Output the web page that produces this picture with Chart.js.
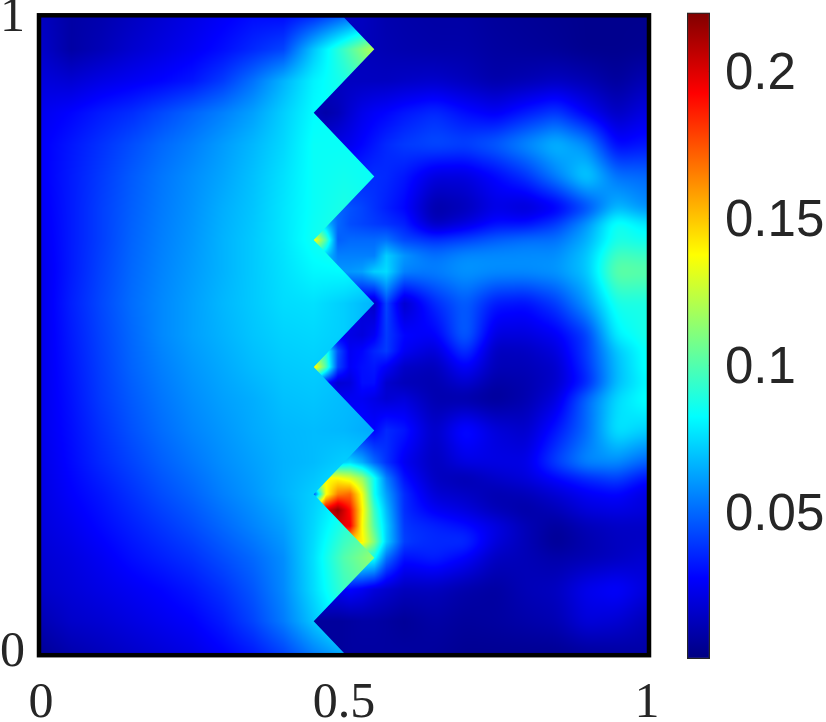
<!DOCTYPE html>
<html>
<head>
<meta charset="utf-8">
<style>
  html, body { margin: 0; background: #fff; }
  canvas { position: absolute; top: 0; }
  #field { left: 0; }
  #bar { left: 680px; }
</style>
<script src="https://cdn.jsdelivr.net/npm/chart.js@4/dist/chart.umd.min.js"></script>
</head>
<body>
<canvas id="field" width="680" height="722"></canvas>
<canvas id="bar" width="146" height="722"></canvas>
<script>
const valueUnit = 0.001;

const leftX = [0, .05, .1, .15, .2, .25, .3, .35, .4, .45, .5, .55];
const leftY = [1, .95, .9, .85, .8, .75, .7, .65, .6, .55, .5, .45, .4, .35, .3, .25, .2, .15, .1, .05, 0];
const leftValues = [
  [14, 8, 10, 14, 18, 22, 26, 30, 30, 38, 50, 60],
  [16, 8, 12, 17, 21, 25, 30, 36, 42, 70, 95, 122],
  [20, 18, 22, 25, 28, 32, 40, 52, 66, 80, 88, 100],
  [24, 28, 33, 37, 43, 49, 55, 62, 72, 82, 85, 88],
  [26, 32, 38, 44, 50, 55, 61, 67, 74, 84, 84, 84],
  [26, 33, 40, 47, 53, 58, 63, 69, 76, 84, 86, 84],
  [25, 33, 41, 48, 54, 59, 65, 70, 77, 84, 88, 86],
  [24, 33, 41, 49, 55, 60, 66, 71, 77, 85, 90, 88],
  [23, 33, 42, 50, 56, 61, 66, 71, 76, 81, 82, 80],
  [23, 34, 43, 51, 57, 62, 67, 71, 75, 76, 72, 66],
  [23, 33, 42, 50, 57, 62, 66, 70, 73, 74, 72, 66],
  [23, 32, 41, 49, 55, 60, 64, 68, 71, 72, 70, 66],
  [23, 31, 40, 47, 53, 58, 62, 65, 69, 70, 68, 66],
  [23, 30, 38, 45, 51, 56, 60, 64, 67, 68, 67, 64],
  [22, 29, 36, 42, 48, 53, 58, 62, 66, 68, 72, 72],
  [21, 27, 32, 38, 44, 49, 55, 60, 66, 72, 80, 85],
  [20, 24, 29, 34, 39, 44, 50, 56, 62, 74, 90, 100],
  [18, 21, 25, 30, 34, 38, 44, 50, 58, 76, 100, 115],
  [16, 19, 22, 25, 28, 32, 38, 46, 57, 75, 95, 105],
  [11, 16, 18, 21, 24, 27, 33, 42, 54, 70, 85, 90],
  [5, 10, 13, 16, 19, 22, 27, 33, 42, 55, 65, 70]
];

const rightX = [.45, .47, .49, .51, .53, .55, .57, .6, .65, .7, .75, .8, .85, .9, .95, 1];
const rightY = [1, .95, .9, .85, .8, .75, .7, .675, .65, .625, .6, .55, .5, .475, .45, .425, .4, .35, .3, .275, .25, .225, .2, .175, .15, .1, .05, 0];
const rightValues = [
  [15, 15, 15, 14, 14, 12, 10, 9, 8, 8, 6, 5, 4, 3, 3, 3],
  [15, 15, 15, 14, 13, 12, 11, 10, 9, 9, 7, 6, 5, 3, 3, 4],
  [14, 14, 14, 14, 14, 14, 14, 15, 16, 13, 9, 11, 14, 11, 6, 12],
  [12, 9, 12, 18, 23, 26, 28, 32, 37, 30, 25, 33, 40, 26, 14, 22],
  [20, 20, 22, 24, 28, 32, 36, 40, 44, 42, 48, 58, 68, 58, 28, 32],
  [35, 35, 35, 35, 36, 37, 36, 32, 20, 20, 28, 38, 55, 74, 52, 50],
  [55, 55, 50, 45, 42, 38, 34, 28, 8, 12, 22, 17, 24, 42, 68, 58],
  [85, 70, 50, 44, 42, 40, 38, 34, 12, 20, 30, 30, 40, 60, 88, 78],
  [140, 100, 48, 50, 50, 50, 52, 42, 38, 42, 48, 52, 52, 65, 88, 85],
  [90, 70, 55, 55, 55, 55, 72, 60, 52, 58, 58, 58, 58, 70, 98, 95],
  [65, 65, 60, 60, 62, 72, 75, 55, 55, 60, 58, 58, 60, 70, 104, 102],
  [30, 30, 30, 25, 20, 15, 42, 15, 36, 48, 32, 30, 40, 60, 88, 88],
  [25, 25, 25, 22, 20, 25, 40, 28, 26, 50, 20, 20, 25, 40, 80, 88],
  [100, 90, 45, 25, 28, 35, 40, 25, 18, 40, 13, 14, 20, 40, 70, 85],
  [145, 100, 42, 26, 30, 32, 26, 15, 12, 28, 12, 12, 16, 38, 68, 85],
  [60, 30, 18, 20, 30, 30, 17, 12, 10, 18, 8, 10, 16, 34, 68, 82],
  [25, 25, 25, 25, 25, 22, 18, 20, 10, 8, 5, 10, 20, 50, 75, 85],
  [30, 30, 30, 30, 30, 28, 36, 32, 15, 32, 20, 16, 32, 50, 78, 72],
  [60, 60, 70, 75, 65, 50, 38, 24, 13, 22, 22, 22, 42, 58, 58, 48],
  [140, 138, 138, 130, 115, 85, 55, 30, 14, 10, 16, 20, 28, 36, 42, 30],
  [40, 135, 165, 170, 135, 85, 62, 36, 18, 15, 10, 12, 18, 25, 28, 20],
  [150, 200, 215, 190, 140, 95, 68, 36, 25, 20, 12, 8, 12, 20, 22, 20],
  [150, 190, 200, 195, 137, 100, 72, 38, 35, 30, 22, 12, 6, 12, 15, 15],
  [120, 130, 140, 145, 140, 110, 72, 40, 36, 38, 20, 12, 4, 10, 14, 15],
  [90, 90, 90, 90, 90, 85, 52, 30, 35, 27, 14, 12, 9, 11, 14, 18],
  [25, 25, 25, 28, 25, 20, 17, 13, 13, 9, 7, 12, 14, 24, 28, 20],
  [6, 6, 6, 7, 8, 8, 7, 5, 8, 6, 7, 9, 11, 20, 18, 12],
  [6, 6, 6, 7, 7, 7, 7, 7, 6, 4, 4, 4, 4, 6, 7, 8]
];

// zigzag crack edge of the left part, from top to bottom
const edgeX = [.5, .55, .45, .55, .45, .55, .45, .55, .45, .55, .45, .5];
const edgeY = [1, .95, .85, .75, .65, .55, .45, .35, .25, .15, .05, 0];

const axisTicks = [0, 0.5, 1];
const barTicks = [0.05, 0.1, 0.15, 0.2];
const barRange = [0, 0.22];
const jetStops = [[0, 0, 0, 128], [.125, 0, 0, 255], [.375, 0, 255, 255], [.625, 255, 255, 0], [.875, 255, 0, 0], [1, 128, 0, 0]];

function jet(t) {
  t = Math.max(0, Math.min(1, t));
  for (let i = 1; i < jetStops.length; i++) {
    if (t <= jetStops[i][0]) {
      const a = jetStops[i - 1], b = jetStops[i];
      const f = (t - a[0]) / (b[0] - a[0]);
      return [a[1] + (b[1] - a[1]) * f, a[2] + (b[2] - a[2]) * f, a[3] + (b[3] - a[3]) * f];
    }
  }
  return jetStops[5].slice(1);
}

function cellOf(axis, v, descending) {
  const s = descending ? -1 : 1;
  let i = 0;
  while (i < axis.length - 2 && s * v > s * axis[i + 1]) i++;
  const f = (v - axis[i]) / (axis[i + 1] - axis[i]);
  return [i, Math.max(0, Math.min(1, f))];
}

function sample(xs, ys, vals, x, y) {
  const [i, fx] = cellOf(xs, x, false);
  const [j, fy] = cellOf(ys, y, true);
  const top = vals[j][i] * (1 - fx) + vals[j][i + 1] * fx;
  const bot = vals[j + 1][i] * (1 - fx) + vals[j + 1][i + 1] * fx;
  return (top * (1 - fy) + bot * fy) * valueUnit;
}

function toPoints(xs, ys, vals) {
  const pts = [];
  ys.forEach((y, j) => xs.forEach((x, i) => pts.push({ x: x, y: y, v: vals[j][i] * valueUnit })));
  return pts;
}

// soften the grid creases away from the sharp spots at the crack
function blurred(buf, w, h, r) {
  const out = new Float32Array(buf.length);
  for (let y = 0; y < h; y++) for (let x = 0; x < w; x++) {
    let sum = 0, n = 0;
    for (let d = -r; d <= r; d++) { const q = Math.min(w - 1, Math.max(0, x + d)); sum += buf[y * w + q]; n++; }
    out[y * w + x] = sum / n;
  }
  const res = new Float32Array(buf.length);
  for (let y = 0; y < h; y++) for (let x = 0; x < w; x++) {
    let sum = 0, n = 0;
    for (let d = -r; d <= r; d++) { const q = Math.min(h - 1, Math.max(0, y + d)); sum += out[q * w + x]; n++; }
    res[y * w + x] = sum / n;
  }
  return res;
}

function paintField(chart, xs, ys, vals, softFrom) {
  const a = chart.chartArea, sx = chart.scales.x, sy = chart.scales.y;
  const x0 = Math.floor(a.left), y0 = Math.floor(a.top);
  const w = Math.ceil(a.right) - x0, h = Math.ceil(a.bottom) - y0;
  let buf = new Float32Array(w * h);
  for (let py = 0; py < h; py++) {
    const y = sy.getValueForPixel(y0 + py + .5);
    for (let px = 0; px < w; px++) {
      buf[py * w + px] = sample(xs, ys, vals, sx.getValueForPixel(x0 + px + .5), y);
    }
  }
  if (softFrom) {
    const soft = blurred(blurred(buf, w, h, 6), w, h, 6);
    for (let i = 0; i < buf.length; i++) {
      const x = sx.getValueForPixel(x0 + i % w + .5);
      const f = Math.max(0, Math.min(1, (x - softFrom) / .05));
      buf[i] = buf[i] * (1 - f) + soft[i] * f;
    }
  }
  const off = document.createElement('canvas');
  off.width = w; off.height = h;
  const c = off.getContext('2d');
  const img = c.createImageData(w, h);
  for (let i = 0; i < buf.length; i++) {
    const rgb = jet(buf[i] / barRange[1]);
    img.data[i * 4] = rgb[0]; img.data[i * 4 + 1] = rgb[1]; img.data[i * 4 + 2] = rgb[2]; img.data[i * 4 + 3] = 255;
  }
  c.putImageData(img, 0, 0);
  chart.ctx.drawImage(off, x0, y0);
}

const noPadding = s => { s.paddingTop = 0; s.paddingBottom = 0; s.paddingLeft = 0; s.paddingRight = 0; };

const fieldPlugin = {
  id: 'fieldPlugin',
  beforeDatasetsDraw(chart) {
    const ctx = chart.ctx, sx = chart.scales.x, sy = chart.scales.y;
    paintField(chart, rightX, rightY, rightValues, .58);
    ctx.save();
    ctx.beginPath();
    ctx.moveTo(sx.getPixelForValue(0), sy.getPixelForValue(1));
    edgeX.forEach((x, i) => ctx.lineTo(sx.getPixelForValue(x), sy.getPixelForValue(edgeY[i])));
    ctx.lineTo(sx.getPixelForValue(0), sy.getPixelForValue(0));
    ctx.closePath();
    ctx.clip();
    paintField(chart, leftX, leftY, leftValues, 0);
    ctx.restore();
  },
  afterDatasetsDraw(chart) {
    const ctx = chart.ctx, a = chart.chartArea;
    ctx.save();
    ctx.strokeStyle = '#000';
    ctx.lineWidth = 4.5;
    ctx.strokeRect(a.left - 2, a.top - 2.2, a.right - a.left + 4, a.bottom - a.top + 4.4);
    ctx.restore();
  }
};

const serif = { family: '"Liberation Serif"', size: 50 };

new Chart(document.getElementById('field'), {
  type: 'scatter',
  data: {
    datasets: [
      { label: 'left', data: toPoints(leftX, leftY, leftValues), pointRadius: 0 },
      { label: 'right', data: toPoints(rightX, rightY, rightValues), pointRadius: 0 }
    ]
  },
  options: {
    responsive: false,
    animation: false,
    layout: { autoPadding: false, padding: { top: 17.5, right: 33, left: 0, bottom: 0 } },
    plugins: { legend: { display: false }, tooltip: { enabled: false } },
    scales: {
      x: {
        min: 0, max: 1,
        grid: { display: false }, border: { display: false },
        afterBuildTicks: s => { s.ticks = axisTicks.map(v => ({ value: v })); },
        afterFit: s => { s.height = 69; noPadding(s); },
        ticks: { color: '#262626', font: serif, maxRotation: 0, padding: 13, callback: v => String(v) }
      },
      y: {
        min: 0, max: 1,
        grid: { display: false }, border: { display: false },
        afterBuildTicks: s => { s.ticks = axisTicks.filter(v => v !== 0.5).map(v => ({ value: v })); },
        afterFit: s => { s.width = 41; noPadding(s); },
        ticks: { color: '#262626', font: serif, padding: 8, callback: v => String(v) }
      }
    }
  },
  plugins: [fieldPlugin]
});

new Chart(document.getElementById('bar'), {
  type: 'bar',
  data: {
    labels: [''],
    datasets: [{
      data: [barRange],
      barPercentage: 1,
      categoryPercentage: 1,
      borderColor: '#262626',
      borderWidth: 1.5,
      borderSkipped: false,
      backgroundColor: ctx => {
        const a = ctx.chart.chartArea;
        if (!a) return '#00f';
        const g = ctx.chart.ctx.createLinearGradient(0, a.bottom, 0, a.top);
        jetStops.forEach(s => g.addColorStop(s[0], 'rgb(' + s[1] + ',' + s[2] + ',' + s[3] + ')'));
        return g;
      }
    }]
  },
  options: {
    responsive: false,
    animation: false,
    layout: { autoPadding: false, padding: { top: 12.5, bottom: 63, left: 7, right: 0 } },
    plugins: { legend: { display: false }, tooltip: { enabled: false } },
    scales: {
      x: { display: false },
      y: {
        position: 'right',
        min: barRange[0], max: barRange[1],
        border: { display: false },
        grid: { drawOnChartArea: false, tickLength: -7, tickColor: '#262626', tickWidth: 1 },
        afterBuildTicks: s => { s.ticks = barTicks.map(v => ({ value: v })); },
        afterFit: s => { s.width = 116; noPadding(s); },
        ticks: { color: '#262626', font: { family: '"Liberation Sans"', size: 51 }, padding: 22, labelOffset: 4, callback: v => String(v) }
      }
    }
  }
});
</script>
</body>
</html>
